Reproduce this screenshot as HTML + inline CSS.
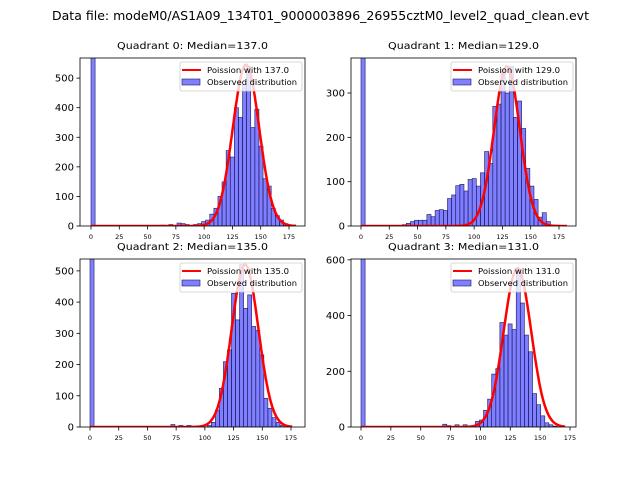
<!DOCTYPE html>
<html><head><meta charset="utf-8"><style>
body{margin:0;background:#fff;font-family:"Liberation Sans","DejaVu Sans",sans-serif}
svg text{font-family:"DejaVu Sans","Liberation Sans",sans-serif}
</style></head><body>
<svg id="fig" width="640" height="480" viewBox="0 0 640 480" xmlns="http://www.w3.org/2000/svg">
<rect width="640" height="480" fill="#fff"/>
<text x="320.5" y="20" text-anchor="middle" font-size="12" textLength="537" lengthAdjust="spacingAndGlyphs">Data file: modeM0/AS1A09_134T01_9000003896_26955cztM0_level2_quad_clean.evt</text>
</svg>
<script>
const titles=["Quadrant 0: Median=137.0","Quadrant 1: Median=129.0","Quadrant 2: Median=135.0","Quadrant 3: Median=131.0"];
const lambdas=[137,129,135,131];
const curvePeaks=[545,360,520,570];
const binWidths=[3.62,3.64,3.52,3.42];
const ymaxs=[568,379,538,603];
const yTicks0=[0,100,200,300,400,500];
const yTicks1=[0,100,200,300];
const yTicks2=[0,100,200,300,400,500];
const yTicks3=[0,200,400,600];
const xTicks=[0,25,50,75,100,125,150,175];
const counts0={0:2000,17:3,19:5,21:10,22:8,23:5,25:5,26:8,27:15,28:20,29:40,30:60,31:100,32:149,33:255,34:233,35:400,36:367,37:478,38:540,39:333,40:395,41:270,42:160,43:135,44:60,45:35,46:20,47:8,48:3,49:1};
const counts1={0:2000,10:3,11:6,12:10,13:13,14:13,15:13,16:26,17:21,18:35,19:37,20:35,21:62,22:70,23:91,24:94,25:79,26:105,27:107,28:90,29:120,30:168,31:141,32:270,33:275,34:355,35:300,36:360,37:245,38:282,39:220,40:130,41:90,42:60,43:20,44:30,45:10,46:2};
const counts2={0:2000,20:8,22:5,24:5,29:5,30:15,31:54,32:124,33:209,34:247,35:428,36:343,37:520,38:380,39:423,40:322,41:310,42:231,43:92,44:60,45:30,46:15,47:5};
const counts3={0:2000,20:10,21:5,23:8,25:8,28:20,29:25,30:60,31:100,32:190,33:210,34:375,35:330,36:370,37:350,38:570,39:445,40:330,41:270,42:120,43:80,44:40,45:15,46:8,47:3};
const allCounts=[counts0,counts1,counts2,counts3];
const allYTicks=[yTicks0,yTicks1,yTicks2,yTicks3];
const NS="http://www.w3.org/2000/svg";
const svg=document.getElementById('fig');
function mk(tag,attrs,parent){const e=document.createElementNS(NS,tag);for(const k in attrs)e.setAttribute(k,attrs[k]);(parent||svg).appendChild(e);return e;}
const boxes=[{x:80,y:58,w:225,h:168,x0:91,x175:289},{x:351,y:58,w:225,h:168,x0:361,x175:559},{x:80,y:259,w:225,h:168,x0:90,x175:291},{x:351,y:259,w:225,h:168,x0:361,x175:570}];
boxes.forEach((b,q)=>{
  const g=mk('g',{});
  
  
  const sx=v=>b.x0+(b.x175-b.x0)*v/175;
  const sy=c=>b.y+b.h-b.h*c/ymaxs[q];
  const clip=mk('clipPath',{id:'c'+q},g);mk('rect',{x:b.x,y:b.y,width:b.w,height:b.h},clip);
  const bars=mk('g',{'clip-path':'url(#c'+q+')'},g);
  const cnt=allCounts[q],bw=binWidths[q];
  for(const k in cnt){
    const i=+k,v=cnt[k];
    const r=mk('rect',{x:sx(i*bw),y:sy(v),width:sx(bw)-sx(0),height:sy(0)-sy(v),fill:'rgba(0,0,255,0.5)',stroke:'#1a1a5a','stroke-width':0.6},bars);
    
    
  }
  let d='';const lam=lambdas[q],pk=curvePeaks[q],xmax=bw*50;
  for(let x=0;x<=xmax;x+=0.5){const y=pk*Math.exp(-(x-lam)*(x-lam)/(2*lam));d+=(x?'L':'M')+sx(x).toFixed(1)+','+sy(y).toFixed(1);}
  const p=mk('path',{d:d,fill:'none',stroke:'#ff0000','stroke-width':2.5},bars);
  
  
  const fr=mk('rect',{x:b.x,y:b.y,width:b.w,height:b.h,fill:'none',stroke:'#000','stroke-width':0.8},g);
  
  
  const t=mk('text',{x:b.x+b.w/2,y:b.y-9,'text-anchor':'middle','font-size':10,textLength:151,lengthAdjust:'spacingAndGlyphs'},g);t.textContent=titles[q];
  
  
  xTicks.forEach(v=>{mk('line',{x1:sx(v),x2:sx(v),y1:b.y+b.h,y2:b.y+b.h+3.5,stroke:'#000','stroke-width':0.8},g);
    const tt=mk('text',{x:sx(v),y:b.y+b.h+13,'text-anchor':'middle','font-size':6.5},g);tt.textContent=v;
    
    });
  allYTicks[q].forEach(v=>{mk('line',{x1:b.x-3.5,x2:b.x,y1:sy(v),y2:sy(v),stroke:'#000','stroke-width':0.8},g);
    const tt=mk('text',{x:b.x-6,y:sy(v)+3.5,'text-anchor':'end','font-size':10},g);tt.textContent=v;
    
    });
  const lg=mk('g',{},g);
  
  
  const lx=b.x+b.w-125,ly=b.y+4;
  mk('rect',{x:lx,y:ly,width:122,height:29,fill:'#fff','fill-opacity':0.8,stroke:'#ccc','stroke-width':0.8,rx:2},lg);
  mk('line',{x1:lx+2,x2:lx+21,y1:ly+8,y2:ly+8,stroke:'#f00','stroke-width':2},lg);
  mk('rect',{x:lx+2,y:ly+17,width:18,height:6,fill:'rgba(0,0,255,0.5)',stroke:'#1a1a5a','stroke-width':0.6},lg);
  const l1=mk('text',{x:lx+27,y:ly+11,'font-size':7.5,textLength:82,lengthAdjust:'spacingAndGlyphs'},lg);l1.textContent='Poission with '+lam.toFixed(1);
  
  
  const l2=mk('text',{x:lx+27,y:ly+23,'font-size':7.5,textLength:90,lengthAdjust:'spacingAndGlyphs'},lg);l2.textContent='Observed distribution';
  
  
});
</script>
</body></html>
